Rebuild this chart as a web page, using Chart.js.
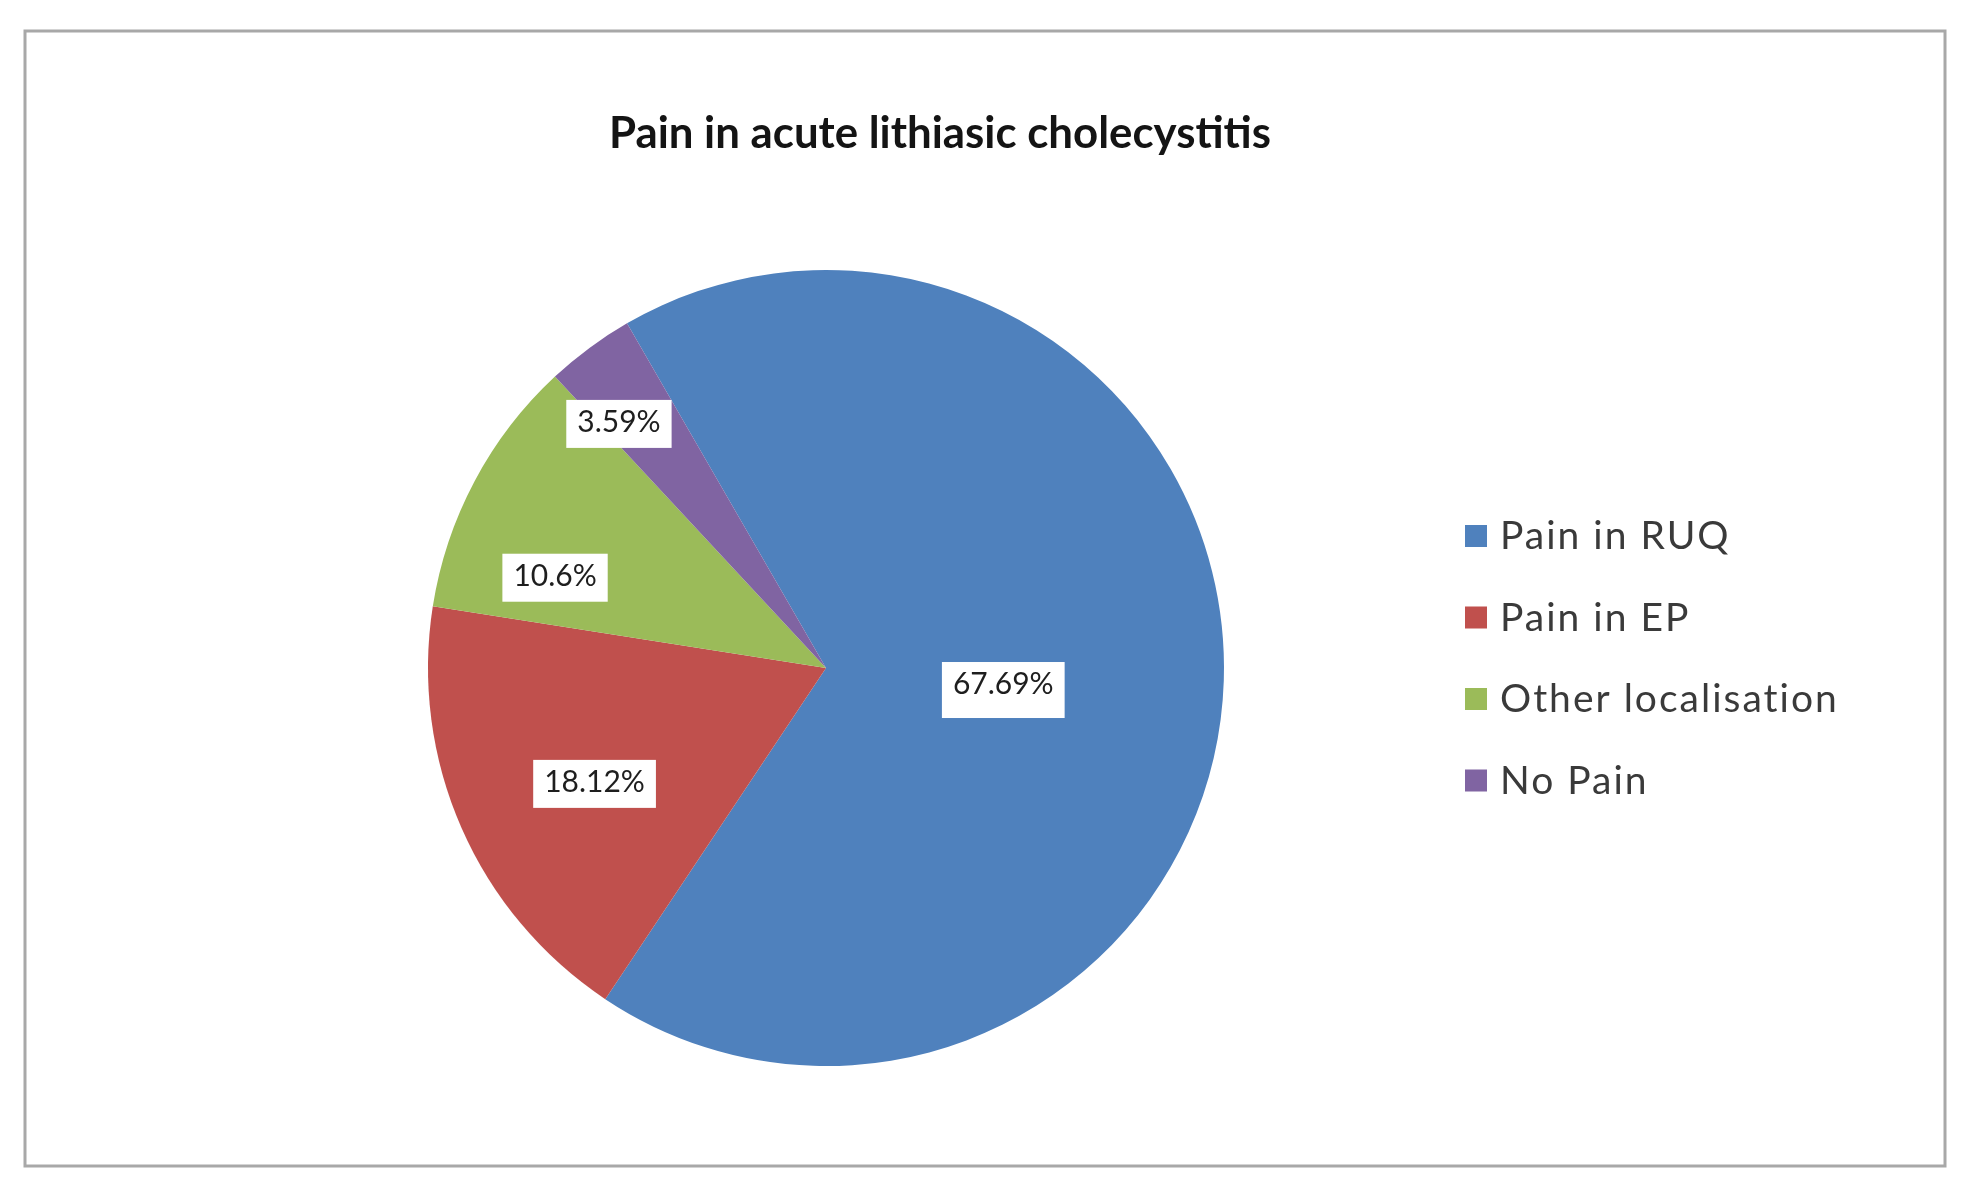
<!DOCTYPE html>
<html><head><meta charset="utf-8">
<script src="https://cdn.jsdelivr.net/npm/chart.js@4"></script>
<style>html,body{margin:0;padding:0;background:#fff}canvas{display:block}</style>
</head><body>
<canvas id="c" width="1968" height="1197"></canvas>
<script>
// ---- data ----
const chartTitle = 'Pain in acute lithiasic cholecystitis';
const categories = ['Pain in RUQ', 'Pain in EP', 'Other localisation', 'No Pain'];
const percentValues = [67.69, 18.12, 10.6, 3.59];
const sliceColors = ['#4F81BD', '#C0504D', '#9BBB59', '#8064A2'];

// ---- label placement (style: radial fraction of radius, angular nudge in degrees) ----
const labelRadialFactor = [0.447, 0.647, 0.72, 0.81];
const labelAngleNudge = [3, -2.3, -9, -3.5];

const decor = {
  id: 'decor',
  beforeDraw(chart) {
    const ctx = chart.ctx;
    ctx.save();
    ctx.fillStyle = '#ffffff';
    ctx.fillRect(0, 0, chart.width, chart.height);
    ctx.restore();
  },
  afterDraw(chart) {
    const ctx = chart.ctx;
    ctx.save();
    // outer frame
    ctx.strokeStyle = '#a8a8a8';
    ctx.lineWidth = 3;
    ctx.strokeRect(25, 31, 1920, 1135);

    // title
    ctx.fillStyle = '#141414';
    ctx.font = 'bold 44px Lato';
    ctx.textAlign = 'center';
    ctx.textBaseline = 'alphabetic';
    ctx.fillText(chartTitle, 940, 148, 662);

    // legend
    const ds = chart.data.datasets[0];
    ctx.textAlign = 'left';
    ctx.font = '39px Lato';
    ctx.letterSpacing = '2px';
    chart.data.labels.forEach((lab, i) => {
      const cy = 536 + i * 81.5;
      ctx.fillStyle = ds.backgroundColor[i];
      ctx.fillRect(1465, cy - 11, 22, 22);
      ctx.fillStyle = '#3a3a3a';
      ctx.fillText(lab, 1500, cy + 13);
    });
    ctx.letterSpacing = '0px';

    // data labels
    const meta = chart.getDatasetMeta(0);
    ctx.font = '30px Lato';
    ctx.textAlign = 'center';
    meta.data.forEach((arc, i) => {
      const mid = (arc.startAngle + arc.endAngle) / 2 + labelAngleNudge[i] * Math.PI / 180;
      const r = arc.outerRadius * labelRadialFactor[i];
      const x = arc.x + Math.cos(mid) * r;
      const y = arc.y + Math.sin(mid) * r;
      const txt = ds.data[i] + '%';
      const w = ctx.measureText(txt).width + 22;
      const h = i === 0 ? 56 : 48;
      ctx.fillStyle = '#ffffff';
      ctx.fillRect(x - w / 2, y - 21, w, h);
      ctx.fillStyle = '#1e1e1e';
      ctx.fillText(txt, x, y + 11);
    });
    ctx.restore();
  }
};

new Chart(document.getElementById('c'), {
  type: 'pie',
  data: {
    labels: categories,
    datasets: [{
      data: percentValues,
      backgroundColor: sliceColors,
      borderWidth: 0
    }]
  },
  options: {
    responsive: false,
    animation: false,
    rotation: -30,
    layout: { padding: { left: 428, right: 744, top: 270, bottom: 131 } },
    plugins: {
      legend: { display: false },
      title: { display: false },
      tooltip: { enabled: false }
    }
  },
  plugins: [decor]
});
</script>
</body></html>
